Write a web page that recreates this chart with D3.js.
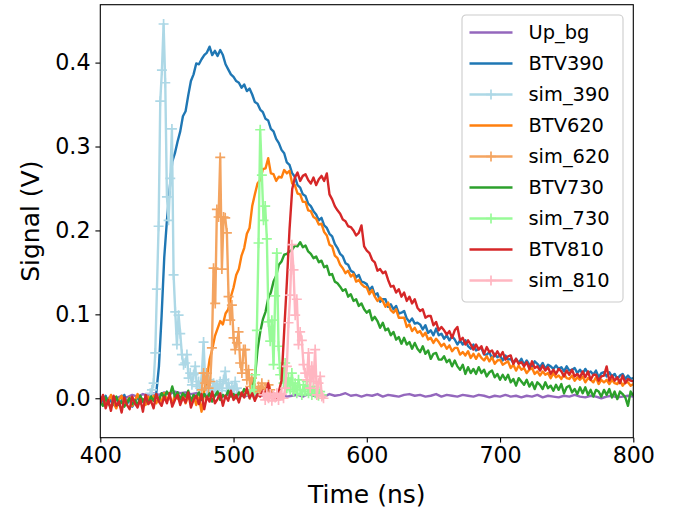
<!DOCTYPE html>
<html>
<head>
<meta charset="utf-8">
<script src="https://cdnjs.cloudflare.com/ajax/libs/d3/7.8.5/d3.min.js"></script>
<style>
  body { margin: 0; background: #fff; }
  svg { font-family: "DejaVu Sans", sans-serif; }
</style>
</head>
<body>
<svg id="chart" width="681" height="512"></svg>
<script>
// measured traces, one sample every 2 ns from 400 to 800 ns
const btvTime = d3.range(400, 800.1, 2);
const btv390 = [
    0.002,-0.004,0.003,-0.006,-0.002,-0.008,0.001,-0.005,-0.003,0.004,
    -0.007,-0.001,-0.010,-0.004,0.002,-0.006,-0.003,0.001,-0.005,0.003,
    -0.002,0.006,0.038,0.098,0.168,0.212,0.248,0.282,0.292,0.306,
    0.318,0.336,0.342,0.361,0.378,0.386,0.399,0.398,0.404,0.409,
    0.412,0.419,0.409,0.414,0.408,0.415,0.409,0.398,0.392,0.386,
    0.383,0.378,0.376,0.370,0.374,0.366,0.369,0.362,0.353,0.351,
    0.344,0.341,0.333,0.331,0.321,0.318,0.309,0.304,0.296,0.292,
    0.281,0.278,0.268,0.264,0.254,0.251,0.243,0.241,0.232,0.229,
    0.223,0.219,0.212,0.215,0.206,0.203,0.196,0.193,0.184,0.179,
    0.172,0.169,0.161,0.159,0.152,0.150,0.144,0.147,0.139,0.138,
    0.136,0.129,0.133,0.123,0.125,0.115,0.118,0.118,0.109,0.112,
    0.106,0.110,0.101,0.102,0.104,0.095,0.091,0.095,0.089,0.090,
    0.088,0.082,0.087,0.078,0.081,0.075,0.083,0.075,0.077,0.071,
    0.075,0.069,0.074,0.070,0.064,0.069,0.064,0.069,0.062,0.059,
    0.064,0.057,0.059,0.060,0.052,0.052,0.055,0.047,0.053,0.049,
    0.051,0.045,0.051,0.046,0.047,0.042,0.047,0.042,0.047,0.040,
    0.045,0.040,0.038,0.044,0.041,0.037,0.042,0.035,0.040,0.038,
    0.035,0.039,0.035,0.037,0.032,0.038,0.033,0.034,0.036,0.030,
    0.034,0.029,0.035,0.030,0.032,0.028,0.033,0.025,0.030,0.031,
    0.026,0.031,0.026,0.029,0.023,0.027,0.029,0.023,0.027,0.023,
    0.024
];
const btv620 = [
    -0.005,0.002,-0.008,-0.003,0.004,-0.006,-0.012,-0.002,0.003,-0.007,
    -0.004,0.001,-0.009,-0.003,0.005,-0.005,-0.001,-0.008,0.002,-0.004,
    0.003,-0.006,0.001,-0.004,0.006,-0.002,0.002,-0.007,0.004,0.000,
    -0.003,0.005,-0.006,0.002,-0.004,0.003,-0.008,0.001,-0.016,0.008,
    0.024,0.046,0.058,0.074,0.083,0.092,0.088,0.101,0.106,0.121,
    0.132,0.147,0.154,0.170,0.179,0.196,0.203,0.229,0.243,0.256,
    0.260,0.273,0.274,0.286,0.268,0.267,0.259,0.264,0.263,0.272,
    0.268,0.271,0.256,0.254,0.244,0.243,0.234,0.234,0.224,0.223,
    0.216,0.214,0.207,0.208,0.198,0.194,0.183,0.181,0.170,0.167,
    0.159,0.155,0.149,0.152,0.145,0.148,0.139,0.141,0.136,0.133,
    0.132,0.124,0.129,0.121,0.116,0.120,0.116,0.109,0.114,0.105,
    0.102,0.106,0.096,0.096,0.096,0.085,0.088,0.080,0.084,0.078,
    0.080,0.074,0.078,0.070,0.072,0.066,0.071,0.067,0.062,0.065,
    0.059,0.063,0.056,0.060,0.060,0.052,0.055,0.051,0.056,0.048,
    0.053,0.047,0.053,0.048,0.045,0.050,0.044,0.049,0.041,0.045,
    0.046,0.040,0.042,0.044,0.036,0.040,0.033,0.039,0.034,0.036,
    0.030,0.034,0.036,0.029,0.032,0.027,0.032,0.028,0.030,0.024,
    0.030,0.025,0.027,0.023,0.029,0.024,0.023,0.027,0.021,0.025,
    0.022,0.026,0.019,0.024,0.022,0.019,0.025,0.017,0.022,0.019,
    0.022,0.017,0.022,0.018,0.017,0.022,0.015,0.019,0.019,0.015,
    0.017
];
const btv730 = [
    -0.004,-0.009,0.001,-0.006,-0.011,-0.003,0.002,-0.008,-0.004,-0.010,
    -0.005,0.000,-0.007,-0.002,-0.009,0.003,-0.004,0.001,-0.006,0.002,
    -0.003,0.004,-0.002,0.006,0.001,0.008,0.003,0.014,0.002,0.007,
    -0.001,0.006,0.002,0.009,-0.003,0.004,0.001,0.007,-0.002,0.005,
    0.000,0.006,-0.004,0.003,0.008,-0.002,0.004,0.001,0.009,0.002,
    0.005,0.000,0.007,0.003,0.011,0.006,0.004,0.009,0.024,0.058,
    0.079,0.094,0.103,0.119,0.126,0.139,0.146,0.159,0.163,0.171,
    0.172,0.175,0.177,0.182,0.181,0.186,0.180,0.182,0.175,0.172,
    0.167,0.169,0.162,0.164,0.156,0.158,0.147,0.148,0.139,0.137,
    0.133,0.128,0.130,0.121,0.124,0.116,0.118,0.110,0.113,0.106,
    0.102,0.105,0.093,0.097,0.092,0.084,0.090,0.081,0.083,0.075,
    0.079,0.070,0.073,0.065,0.072,0.064,0.067,0.059,0.066,0.059,
    0.055,0.062,0.053,0.057,0.047,0.053,0.054,0.046,0.046,0.050,
    0.043,0.046,0.038,0.045,0.038,0.034,0.040,0.029,0.037,0.030,
    0.035,0.029,0.037,0.030,0.034,0.026,0.031,0.033,0.025,0.029,
    0.022,0.028,0.022,0.028,0.019,0.023,0.015,0.024,0.020,0.016,
    0.022,0.014,0.019,0.011,0.019,0.016,0.011,0.019,0.012,0.015,
    0.009,0.016,0.010,0.017,0.006,0.013,0.015,0.007,0.011,0.005,
    0.013,0.006,0.013,0.004,0.010,0.002,0.010,0.008,0.002,0.010,
    0.004,0.011,0.001,0.008,-0.001,0.008,0.005,0.001,-0.009,0.008,
    0.003
];
const btv810 = [
    -0.006,0.004,-0.012,-0.002,-0.015,0.003,-0.009,-0.004,-0.017,0.001,
    -0.008,-0.013,0.002,-0.006,-0.011,-0.001,-0.016,0.004,-0.007,-0.003,
    -0.012,0.005,-0.004,-0.009,0.002,-0.006,0.006,-0.010,-0.002,0.004,
    -0.008,0.001,-0.005,0.007,-0.011,-0.002,0.003,-0.007,0.005,-0.013,
    0.002,-0.004,0.008,-0.006,-0.001,0.006,-0.009,0.003,-0.003,0.009,
    -0.002,0.004,-0.005,0.007,0.001,0.012,0.000,0.006,-0.003,0.005,
    0.002,0.009,0.004,0.018,0.003,0.006,-0.002,0.008,0.021,0.080,
    0.138,0.201,0.249,0.263,0.269,0.259,0.265,0.267,0.260,0.256,
    0.263,0.254,0.261,0.265,0.259,0.268,0.243,0.237,0.229,0.224,
    0.220,0.213,0.211,0.205,0.204,0.200,0.194,0.197,0.206,0.181,
    0.176,0.173,0.165,0.162,0.152,0.154,0.149,0.151,0.141,0.133,
    0.134,0.126,0.130,0.121,0.126,0.116,0.121,0.113,0.118,0.108,
    0.104,0.106,0.096,0.098,0.098,0.087,0.091,0.081,0.085,0.081,
    0.076,0.080,0.072,0.081,0.085,0.069,0.072,0.064,0.069,0.064,
    0.058,0.064,0.058,0.062,0.053,0.061,0.055,0.057,0.050,0.056,
    0.050,0.055,0.046,0.050,0.051,0.041,0.047,0.041,0.043,0.038,
    0.043,0.035,0.044,0.036,0.038,0.033,0.039,0.033,0.037,0.029,
    0.034,0.029,0.035,0.032,0.026,0.033,0.028,0.034,0.026,0.029,
    0.025,0.032,0.025,0.032,0.022,0.028,0.028,0.021,0.026,0.027,
    0.038,0.021,0.027,0.021,0.025,0.018,0.027,0.018,0.023,0.021,
    0.020
];

// background, one sample every 4 ns
const bgTime = d3.range(400, 800.1, 4);
const upBg = [
    0.001,-0.002,0.002,0.000,0.003,0.001,0.004,0.002,0.005,0.003,
    0.006,0.004,0.007,0.005,0.008,0.006,0.007,0.005,0.006,0.004,
    0.005,0.003,0.004,0.002,0.004,0.003,0.005,0.002,0.004,0.003,
    0.004,0.002,0.005,0.003,0.004,0.002,0.003,0.004,0.002,0.005,
    0.003,0.004,0.002,0.005,0.003,0.004,0.006,0.003,0.004,0.002,
    0.004,0.003,0.005,0.002,0.004,0.003,0.002,0.004,0.005,0.003,
    0.004,0.002,0.003,0.005,0.002,0.004,0.003,0.002,0.004,0.003,
    0.002,0.004,0.003,0.001,0.003,0.002,0.004,0.002,0.003,0.001,
    0.003,0.002,0.004,0.001,0.003,0.002,0.001,0.003,0.002,0.004,
    0.002,0.001,0.003,0.002,0.000,0.002,0.003,0.001,0.002,0.003,
    0.002
];

// simulations, one sample every 1.25 ns from their start time
const simStep = 1.25;
const sim390Start = 437.5;
const sim390 = [
    0.006,0.010,0.018,0.054,0.130,0.205,0.354,0.391,0.446,0.376,
    0.240,0.212,0.262,0.321,0.147,0.103,0.064,0.099,0.077,0.052,
    0.040,0.042,0.052,0.024,0.030,0.016,0.028,0.038,0.014,0.020,
    0.012,0.030,0.067,0.018,0.010,0.022,0.014,0.008,0.018,0.010,
    0.016,0.012,0.020,0.009,0.022,0.032,0.012,0.018,0.008,0.014,
    0.010,0.020,0.012,0.006
];
const sim620Start = 476.25;
const sim620 = [
    0.010,0.030,0.018,0.030,0.012,0.020,0.060,0.155,0.113,0.225,
    0.216,0.287,0.154,0.216,0.215,0.197,0.121,0.093,0.111,0.072,
    0.058,0.066,0.079,0.042,0.030,0.058,0.058,0.022,0.034,0.014,
    0.024,0.008,0.012,0.006,0.014,0.010,0.018,0.008,0.012,0.006,
    0.016,0.010,0.004
];
const sim730Start = 512.5;
const sim730 = [
    0.004,0.010,0.006,0.028,0.081,0.185,0.320,0.266,0.212,0.229,
    0.190,0.091,0.068,0.093,0.040,0.122,0.173,0.062,0.028,0.036,
    0.018,0.042,0.012,0.024,0.010,0.030,0.008,0.018,0.006,0.022,
    0.010,0.004,0.016,0.008,0.020,0.006,0.012,0.004,0.014,0.006,
    0.010,0.003,0.008,0.004
];
const sim810Start = 522.5;
const sim810 = [
    0.004,-0.002,0.006,0.000,0.005,-0.003,0.004,0.001,0.006,-0.002,
    0.003,0.005,0.000,0.012,0.038,0.090,0.123,0.183,0.153,0.099,
    0.118,0.064,0.079,0.069,0.040,0.030,0.022,0.054,0.012,0.038,
    0.020,0.058,0.004,0.018,0.026,0.002,0.000
];

const xTicks = [400, 500, 600, 700, 800];
const yTicks = [0.0, 0.1, 0.2, 0.3, 0.4];

const simTime = (start, vals) => vals.map((v, i) => start + i * simStep);

const series = [
    { name: "Up_bg",   t: bgTime, v: upBg, color: "#9467bd", sim: false },
    { name: "BTV390",  t: btvTime, v: btv390, color: "#1f77b4", sim: false },
    { name: "sim_390", t: simTime(sim390Start, sim390), v: sim390, color: "#add8e6", sim: true },
    { name: "BTV620",  t: btvTime, v: btv620, color: "#ff7f0e", sim: false },
    { name: "sim_620", t: simTime(sim620Start, sim620), v: sim620, color: "#f4a460", sim: true },
    { name: "BTV730",  t: btvTime, v: btv730, color: "#2ca02c", sim: false },
    { name: "sim_730", t: simTime(sim730Start, sim730), v: sim730, color: "#98fb98", sim: true },
    { name: "BTV810",  t: btvTime, v: btv810, color: "#d62728", sim: false },
    { name: "sim_810", t: simTime(sim810Start, sim810), v: sim810, color: "#ffb6c1", sim: true }
];

const svg = d3.select("#chart");
const margin = { left: 100.3, right: 681 - 633.3, top: 4.7, bottom: 512 - 437.7 };
const W = 681 - margin.left - margin.right,
    H = 512 - margin.top - margin.bottom;

const x = d3.scaleLinear().domain([400, 800]).range([0, W]);
const y = d3.scaleLinear().domain([-0.047, 0.469]).range([H, 0]);

const g = svg.append("g").attr("transform", `translate(${margin.left},${margin.top})`);

g.append("clipPath").attr("id", "clip")
    .append("rect").attr("width", W).attr("height", H);

const plot = g.append("g").attr("clip-path", "url(#clip)");

const line = d3.line().x(d => x(d[0])).y(d => y(d[1]));

// plus marker path, size in px
const plus = s => `M${-s/2},0H${s/2}M0,${-s/2}V${s/2}`;

series.forEach(s => {
    const pts = s.t.map((t, i) => [t, s.v[i]]);
    plot.append("path")
        .datum(pts)
        .attr("fill", "none")
        .attr("stroke", s.color)
        .attr("stroke-width", 2.4)
        .attr("stroke-linejoin", "round")
        .attr("d", line);
    if (s.sim) {
        plot.append("g").selectAll("path")
            .data(pts)
            .enter().append("path")
            .attr("transform", d => `translate(${x(d[0])},${y(d[1])})`)
            .attr("d", plus(10))
            .attr("stroke", s.color)
            .attr("stroke-width", 1.7);
    }
});

// axes
const xAxis = g.append("g").attr("transform", `translate(0,${H})`)
    .call(d3.axisBottom(x).tickValues(xTicks).tickSize(4.9).tickPadding(4.9).tickFormat(d3.format("d")));
const yAxis = g.append("g")
    .call(d3.axisLeft(y).tickValues(yTicks).tickSize(4.9).tickPadding(4.9).tickFormat(d3.format(".1f")));

[xAxis, yAxis].forEach(a => {
    a.select(".domain").remove();
    a.selectAll(".tick line").attr("stroke", "#000").attr("stroke-width", 1.1);
    a.selectAll(".tick text").attr("fill", "#000")
        .style("font-size", "22.2px").style("font-family", "DejaVu Sans");
});

g.append("rect")
    .attr("width", W).attr("height", H)
    .attr("fill", "none").attr("stroke", "#000").attr("stroke-width", 1.1);

svg.append("text")
    .attr("x", margin.left + W / 2).attr("y", 503)
    .attr("text-anchor", "middle")
    .style("font-size", "25px")
    .text("Time (ns)");

svg.append("text")
    .attr("transform", `translate(39,${margin.top + H / 2}) rotate(-90)`)
    .attr("text-anchor", "middle")
    .style("font-size", "25px")
    .text("Signal (V)");

// legend
const legend = svg.append("g").attr("transform", "translate(462,15)");
legend.append("rect")
    .attr("width", 161).attr("height", 287)
    .attr("rx", 4)
    .attr("fill", "#fff").attr("fill-opacity", 0.8)
    .attr("stroke", "#cccccc").attr("stroke-width", 1.1);

series.forEach((s, i) => {
    const ly = 17.5 + i * 31;
    const row = legend.append("g").attr("transform", `translate(0,${ly})`);
    row.append("line")
        .attr("x1", 7.5).attr("x2", 50.5)
        .attr("stroke", s.color).attr("stroke-width", 2.4);
    if (s.sim) {
        row.append("path")
            .attr("transform", "translate(29,0)")
            .attr("d", plus(10))
            .attr("stroke", s.color).attr("stroke-width", 1.7);
    }
    row.append("text")
        .attr("x", 66.5).attr("dy", "0.36em")
        .style("font-size", "19.4px")
        .text(s.name);
});
</script>
</body>
</html>
